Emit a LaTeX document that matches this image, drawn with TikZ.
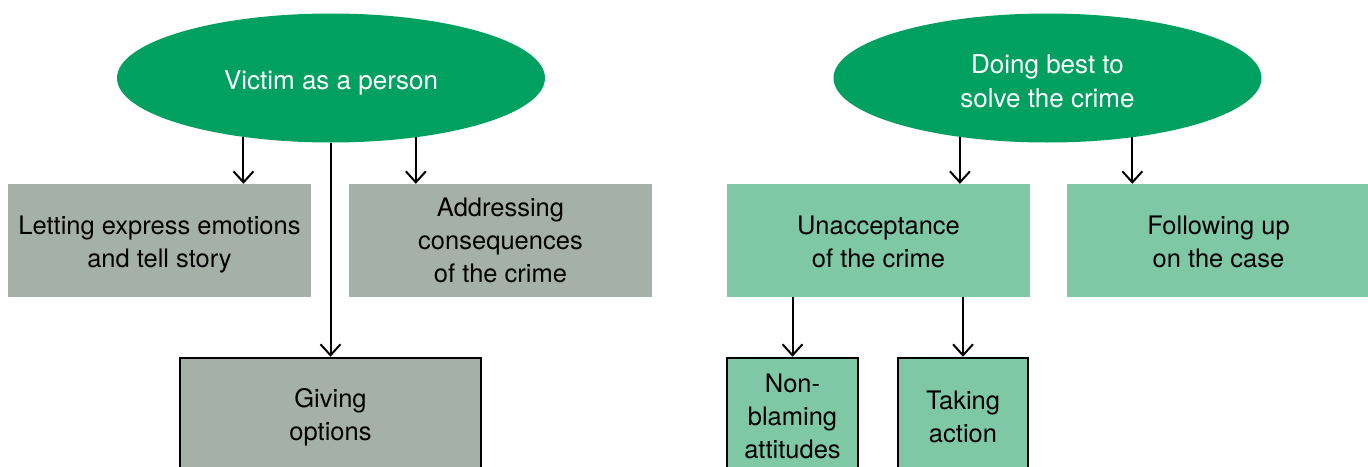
\documentclass[tikz,border=0pt]{standalone}
\usepackage{fontspec}
\setmainfont{TeX Gyre Heros}
\usetikzlibrary{arrows.meta,shapes.geometric}
\definecolor{ellgreen}{HTML}{00A160}
\definecolor{boxgray}{HTML}{A5B0A8}
\definecolor{boxgreen}{HTML}{7FC8A6}
\newcommand\mystrut[1]{\rule{0pt}{#1}}
\begin{document}
\begin{tikzpicture}[x=1pt,y=-1pt,
  ell/.style={ellipse, fill=ellgreen, inner sep=0pt, minimum width=428pt, minimum height=129pt,
    text=white, font=\fontsize{26}{34}\selectfont, align=center},
  flat/.style={rectangle, inner sep=0pt, minimum width=303pt, minimum height=113pt,
    font=\fontsize{25.5}{33}\selectfont, align=center},
  framed/.style={rectangle, draw=black, line width=2.5pt, inner sep=0pt, minimum height=117pt,
    font=\fontsize{25.5}{33}\selectfont, align=center},
  arr/.style={-{Straight Barb[length=11pt,width=20pt,line width=2pt]}, line width=2pt}
]
\useasboundingbox (0,0) rectangle (1368,466);
\clip (0,0) rectangle (1368,466);

\node[ell] (e1) at (331,78) {\mystrut{29pt}Victim as a person};
\node[ell] (e2) at (1047.5,78) {\mystrut{25pt}Doing best to\\solve the crime};

\node[flat, fill=boxgray] (a) at (159.5,240.5) {\mystrut{27pt}Letting express emotions\\and tell story};
\node[flat, fill=boxgray] (b) at (500.5,240.5) {Addressing\\consequences\\of the crime};
\node[flat, fill=boxgreen] (c) at (878.5,240.5) {\mystrut{21pt}Unacceptance\\of the crime};
\node[flat, fill=boxgreen] (d) at (1218.5,240.5) {\mystrut{21pt}Following up\\on the case};

\node[framed, fill=boxgray, minimum width=301pt] (g) at (330.5,416.5) {\mystrut{21pt}Giving\\options};
\node[framed, fill=boxgreen, minimum width=131pt] (n) at (792.5,416.5) {Non-\\blaming\\attitudes};
\node[framed, fill=boxgreen, minimum width=130pt] (t) at (963,416.5) {Taking\\action};

\draw[arr] (e1.214.5) -- (e1.214.5 |- a.north);
\draw[arr] (e1.325.5) -- (e1.325.5 |- b.north);
\draw[arr] (g.north |- e1.south) -- (g.north);
\draw[arr] (e2.214.6) -- (e2.214.6 |- c.north);
\draw[arr] (e2.325.4) -- (e2.325.4 |- d.north);
\draw[arr] (n.north |- c.south) -- (n.north);
\draw[arr] (t.north |- c.south) -- (t.north);
\end{tikzpicture}
\end{document}
